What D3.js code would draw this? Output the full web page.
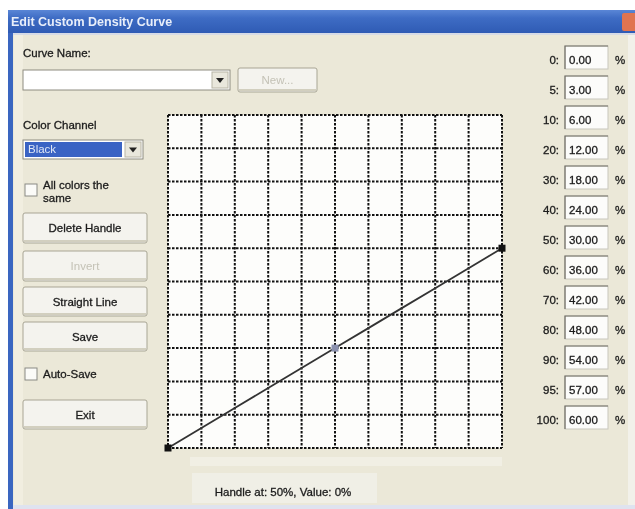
<!DOCTYPE html>
<html>
<head>
  <title>Edit Custom Density Curve</title>
  <script src="https://d3js.org/d3.v7.min.js"></script>
  <style>
    body { margin: 0; background: #fff; }
    svg { display: block; filter: blur(0.45px); }
    text { font-family: "Liberation Sans", Arial, sans-serif; font-size: 11.5px; fill: #1c1c1c; stroke: #1c1c1c; stroke-width: 0.3px; }
  </style>
</head>
<body>
</body>
</html>
<script>
// Curve data: input percentage -> output density percentage
var inputPct = [0, 5, 10, 20, 30, 40, 50, 60, 70, 80, 90, 95, 100];
var densityPct = [0, 3, 6, 12, 18, 24, 30, 36, 42, 48, 54, 57, 60];
var valueLabels = ["0.00", "3.00", "6.00", "12.00", "18.00", "24.00", "30.00", "36.00", "42.00", "48.00", "54.00", "57.00", "60.00"];
var handlePct = [0, 50, 100];
var selectedHandle = 50;
var gridTicks = [0, 10, 20, 30, 40, 50, 60, 70, 80, 90, 100];

var W = 635, H = 509;
var svg = d3.select("body").append("svg").attr("width", W).attr("height", H);

// window frame
svg.append("rect").attr("x", 8).attr("y", 10).attr("width", W - 8).attr("height", H - 10).attr("fill", "#3a66c0");
svg.append("rect").attr("x", 13).attr("y", 33).attr("width", W - 13).attr("height", H - 36).attr("fill", "#ebe8d8");
svg.append("rect").attr("x", 14).attr("y", 33).attr("width", 9).attr("height", H - 36).attr("fill", "#f1eee0");
svg.append("rect").attr("x", 628).attr("y", 33).attr("width", 7).attr("height", H - 36).attr("fill", "#f2f1ea");
svg.append("rect").attr("x", 13).attr("y", 505).attr("width", W - 13).attr("height", 4).attr("fill", "#dfe3ef");

// title bar
var grad = svg.append("defs").append("linearGradient").attr("id", "tb").attr("x1", 0).attr("x2", 0).attr("y1", 0).attr("y2", 1);
grad.append("stop").attr("offset", "0%").attr("stop-color", "#5a86d6");
grad.append("stop").attr("offset", "35%").attr("stop-color", "#3e6cc4");
grad.append("stop").attr("offset", "100%").attr("stop-color", "#2f5bb4");
svg.append("rect").attr("x", 8).attr("y", 10).attr("width", W - 8).attr("height", 23).attr("fill", "url(#tb)");
svg.append("rect").attr("x", 13).attr("y", 33).attr("width", W - 13).attr("height", 2).attr("fill", "#d6dbe6");
svg.append("text").attr("x", 11).attr("y", 26).text("Edit Custom Density Curve")
  .style("font-weight", "bold").style("fill", "#e8eefa").style("stroke", "none").style("font-size", "12.5px");
svg.append("rect").attr("x", 622).attr("y", 13).attr("width", 16).attr("height", 18).attr("rx", 2).attr("fill", "#e07450");

// helpers for controls
function button(x, y, w, h, label, disabled) {
  svg.append("rect").attr("x", x).attr("y", y).attr("width", w).attr("height", h).attr("rx", 2)
    .attr("fill", "#f4f3ee").attr("stroke", "#a8a594").attr("stroke-width", 1);
  svg.append("rect").attr("x", x + 1).attr("y", y + h - 3).attr("width", w - 2).attr("height", 2).attr("fill", "#d2cfbf");
  svg.append("text").attr("x", x + w / 2).attr("y", y + h / 2 + 4).attr("text-anchor", "middle")
    .style("fill", disabled ? "#c4c2b6" : "#1c1c1c").style("stroke", disabled ? "none" : "#1c1c1c").text(label);
}
function checkbox(x, y) {
  svg.append("rect").attr("x", x).attr("y", y).attr("width", 12).attr("height", 12)
    .attr("fill", "#fbfbf8").attr("stroke", "#8a8a84");
}
function combo(x, y, w, h) {
  svg.append("rect").attr("x", x).attr("y", y).attr("width", w).attr("height", h).attr("fill", "#fff").attr("stroke", "#8e8c80");
  svg.append("rect").attr("x", x + w - 18).attr("y", y + 2).attr("width", 16).attr("height", h - 4).attr("fill", "#e9e7dc").attr("stroke", "#b8b5a6");
  var cx = x + w - 10, cy = y + h / 2;
  svg.append("path").attr("d", "M" + (cx - 4) + "," + (cy - 2) + "L" + (cx + 4) + "," + (cy - 2) + "L" + cx + "," + (cy + 3) + "Z").attr("fill", "#222");
}

// left panel
svg.append("text").attr("x", 23).attr("y", 57).text("Curve Name:");
combo(23, 70, 207, 20);
button(238, 68, 79, 24, "New...", true);

svg.append("text").attr("x", 23).attr("y", 129).text("Color Channel");
combo(23, 140, 120, 19);
svg.append("rect").attr("x", 25).attr("y", 142).attr("width", 97).attr("height", 15).attr("fill", "#3a63c4");
svg.append("text").attr("x", 28).attr("y", 153).style("fill", "#dfe6f6").style("stroke", "none").text("Black");

checkbox(25, 184);
svg.append("text").attr("x", 43).attr("y", 189).text("All colors the");
svg.append("text").attr("x", 43).attr("y", 202).text("same");

button(23, 213, 124, 30, "Delete Handle", false);
button(23, 251, 124, 30, "Invert", true);
button(23, 287, 124, 29, "Straight Line", false);
button(23, 322, 124, 29, "Save", false);
checkbox(25, 368);
svg.append("text").attr("x", 43).attr("y", 378).text("Auto-Save");
button(23, 400, 124, 29, "Exit", false);

// curve plot
var x = d3.scaleLinear().domain([0, 100]).range([168, 502]);
var y = d3.scaleLinear().domain([0, 100]).range([448, 115]);

svg.append("rect").attr("x", x(0)).attr("y", y(100)).attr("width", x(100) - x(0)).attr("height", y(0) - y(100)).attr("fill", "#fdfdfb");
svg.append("rect").attr("x", 190).attr("y", 457).attr("width", 312).attr("height", 9).attr("fill", "#f1efe4");

var grid = svg.append("g").attr("stroke", "#111").attr("stroke-width", 2).attr("stroke-dasharray", "2.5,1.5");
grid.selectAll("line.v").data(gridTicks).enter().append("line").attr("class", "v")
  .attr("x1", function(d) { return x(d); }).attr("x2", function(d) { return x(d); })
  .attr("y1", y(100)).attr("y2", y(0));
grid.selectAll("line.h").data(gridTicks).enter().append("line").attr("class", "h")
  .attr("y1", function(d) { return y(d); }).attr("y2", function(d) { return y(d); })
  .attr("x1", x(0)).attr("x2", x(100));

var pts = inputPct.map(function(p, i) { return [p, densityPct[i]]; });
svg.append("path").datum(pts)
  .attr("d", d3.line().x(function(d) { return x(d[0]); }).y(function(d) { return y(d[1]); }))
  .attr("fill", "none").attr("stroke", "#333").attr("stroke-width", 1.8);

svg.selectAll("rect.handle").data(handlePct).enter().append("rect").attr("class", "handle")
  .attr("x", function(d) { return x(d) - 3.5; })
  .attr("y", function(d) { return y(densityPct[inputPct.indexOf(d)]) - 3.5; })
  .attr("width", 7).attr("height", 7)
  .attr("fill", function(d) { return d === selectedHandle ? "#8a90ae" : "#111"; });

// status line
svg.append("rect").attr("x", 192).attr("y", 473).attr("width", 185).attr("height", 30).attr("fill", "#f0efe6");
svg.append("text").attr("x", 283).attr("y", 496).attr("text-anchor", "middle")
  .text("Handle at: " + selectedHandle + "%, Value: 0%");

// right column of curve values
var rowY = d3.scalePoint().domain(inputPct).range([60, 420]);
var rows = svg.selectAll("g.row").data(inputPct).enter().append("g").attr("class", "row")
  .attr("transform", function(d) { return "translate(0," + rowY(d) + ")"; });
rows.append("text").attr("x", 559).attr("y", 4).attr("text-anchor", "end").text(function(d) { return d + ":"; });
rows.append("rect").attr("x", 565).attr("y", -14).attr("width", 43).attr("height", 23)
  .attr("fill", "#fcfcfa").attr("stroke", "#c9c7bc");
rows.append("path").attr("d", "M565,9V-14H608").attr("fill", "none").attr("stroke", "#6e6c64").attr("stroke-width", 1.2);
rows.append("text").attr("x", 569).attr("y", 4).text(function(d, i) { return valueLabels[i]; });
rows.append("text").attr("x", 615).attr("y", 4).text("%");
</script>
